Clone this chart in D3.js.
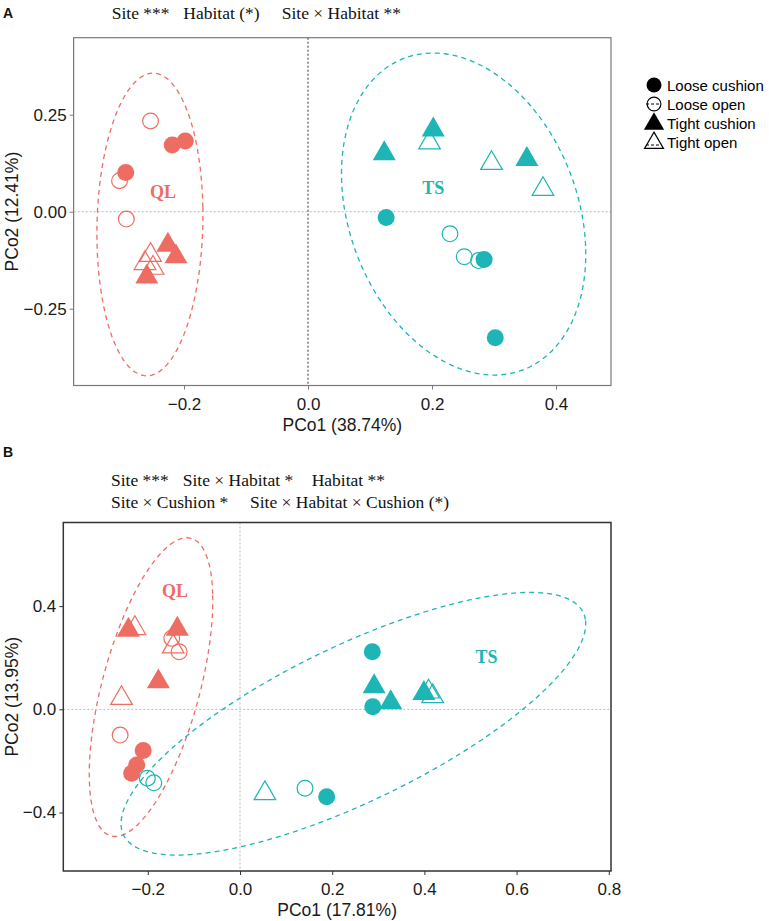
<!DOCTYPE html>
<html><head><meta charset="utf-8">
<script src="https://cdn.jsdelivr.net/npm/d3@7"></script>
<style>body{margin:0;background:#fff} svg{display:block}</style>
</head><body><svg id="c" width="769" height="921"></svg>
<script>
// ---------- shared categories ----------
const groupNames = ["Loose cushion", "Loose open", "Tight cushion", "Tight open"];
const siteNames = ["QL", "TS"];
const siteColors = ["#EE6D62", "#1DB5B6"];

// ---------- Panel A data ----------
const aPCo1 = [-0.219, -0.198, -0.294, -0.254, -0.304, -0.293, -0.226, -0.213, -0.260, -0.254, -0.263, -0.250,
               0.126, 0.284, 0.302, 0.229, 0.252, 0.275, 0.123, 0.202, 0.353, 0.196, 0.296, 0.379];
const aPCo2 = [0.172, 0.182, 0.101, 0.234, 0.080, -0.019, -0.086, -0.116, -0.168, -0.112, -0.133, -0.145,
               -0.015, -0.123, -0.325, -0.057, -0.116, -0.126, 0.150, 0.211, 0.135, 0.178, 0.125, 0.058];
const aSite = ["QL","QL","QL","QL","QL","QL","QL","QL","QL","QL","QL","QL",
               "TS","TS","TS","TS","TS","TS","TS","TS","TS","TS","TS","TS"];
const aGroup = ["Loose cushion","Loose cushion","Loose cushion","Loose open","Loose open","Loose open",
                "Tight cushion","Tight cushion","Tight cushion","Tight open","Tight open","Tight open",
                "Loose cushion","Loose cushion","Loose cushion","Loose open","Loose open","Loose open",
                "Tight cushion","Tight cushion","Tight cushion","Tight open","Tight open","Tight open"];
// ellipse summaries (centre, spread, correlation) per site
const aEllCx = [-0.255, 0.251];
const aEllCy = [-0.033, -0.006];
const aEllSx = [0.0855, 0.197];
const aEllSy = [0.390, 0.415];
const aEllR = [0.06, -0.25];
const aLabelX = [-0.234, 0.202];
const aLabelY = [0.050, 0.060];
const aXTicks = [-0.2, 0.0, 0.2, 0.4];
const aXTickLabels = ["\u22120.2", "0.0", "0.2", "0.4"];
const aYTicks = [0.25, 0.0, -0.25];
const aYTickLabels = ["0.25", "0.00", "\u22120.25"];
const aXTitle = "PCo1 (38.74%)";
const aYTitle = "PCo2 (12.41%)";
const aHeader = [["Site ***", "Habitat (*)", "Site \u00d7 Habitat **"]];

// ---------- Panel B data ----------
const bPCo1 = [-0.210, -0.224, -0.235, -0.148, -0.132, -0.260, -0.242, -0.136, -0.177, -0.228, -0.145, -0.257,
               0.188, 0.287, 0.288, -0.201, -0.187, 0.141, 0.291, 0.327, 0.399, 0.054, 0.409, 0.418];
const bPCo2 = [-0.160, -0.216, -0.248, 0.275, 0.223, -0.100, 0.307, 0.311, 0.107, 0.314, 0.243, 0.043,
               -0.339, 0.223, 0.010, -0.267, -0.285, -0.306, 0.088, 0.026, 0.062, -0.326, 0.068, 0.050];
const bSite = aSite.slice();
const bGroup = aGroup.slice();
const bEllCx = [-0.193, 0.246];
const bEllCy = [0.086, -0.056];
const bEllSx = [0.134, 0.504];
const bEllSy = [0.579, 0.509];
const bEllR = [0.58, 0.76];
const bLabelX = [-0.141, 0.535];
const bLabelY = [0.457, 0.204];
const bXTicks = [-0.2, 0.0, 0.2, 0.4, 0.6, 0.8];
const bXTickLabels = ["\u22120.2", "0.0", "0.2", "0.4", "0.6", "0.8"];
const bYTicks = [0.4, 0.0, -0.4];
const bYTickLabels = ["0.4", "0.0", "\u22120.4"];
const bXTitle = "PCo1 (17.81%)";
const bYTitle = "PCo2 (13.95%)";
const bHeader = [["Site ***", "Site \u00d7 Habitat *", "Habitat **"],
                 ["Site \u00d7 Cushion *", "Site \u00d7 Habitat \u00d7 Cushion (*)"]];

// ---------- drawing ----------
const svg = d3.select("#c");
const SANS = "'Liberation Sans', Arial, sans-serif";
const SERIF = "'Liberation Serif', 'Times New Roman', serif";
const color = d3.scaleOrdinal().domain(siteNames).range(siteColors);
const CR = 8.5, TR = 13.3;

function triPath(r) {
  const h = r * Math.sqrt(3) / 2;
  return `M0,${-r}L${h},${r/2}L${-h},${r/2}Z`;
}

function drawSymbol(g, group, col, x, y, scale) {
  const s = scale || 1;
  const filled = group.indexOf("cushion") >= 0;
  if (group.startsWith("Loose")) {
    g.append("circle").attr("cx", x).attr("cy", y).attr("r", filled ? CR * s : CR * s - 0.6)
      .attr("fill", filled ? col : "none").attr("stroke", filled ? "none" : col).attr("stroke-width", 1.2);
  } else {
    g.append("path").attr("d", triPath(filled ? TR * s : TR * s - 0.8))
      .attr("transform", `translate(${x},${y})`)
      .attr("fill", filled ? col : "none").attr("stroke", filled ? "none" : col).attr("stroke-width", 1.2)
      .attr("stroke-linejoin", "miter");
  }
}

function drawPanel(p) {
  const x = d3.scaleLinear().domain(p.xDom).range([p.left, p.right]);
  const y = d3.scaleLinear().domain(p.yDom).range([p.bottom, p.top]);
  const g = svg.append("g");
  // zero lines
  g.append("line").attr("x1", p.left).attr("x2", p.right).attr("y1", y(0)).attr("y2", y(0))
    .attr("stroke", "#b8b8b8").attr("stroke-width", 1).attr("stroke-dasharray", "2,2");
  g.append("line").attr("x1", x(0)).attr("x2", x(0)).attr("y1", p.top).attr("y2", p.bottom)
    .attr("stroke", p.vzColor).attr("stroke-width", 1).attr("stroke-dasharray", "2,2");
  // ellipses
  const ts = d3.range(0, 361, 3).map(d => d * Math.PI / 180);
  for (let i = 0; i < siteNames.length; i++) {
    const s = Math.sqrt(1 - p.ellR[i] * p.ellR[i]);
    const pts = ts.map(t => [x(p.ellCx[i] + p.ellSx[i] * Math.cos(t)),
                             y(p.ellCy[i] + p.ellSy[i] * (p.ellR[i] * Math.cos(t) + s * Math.sin(t)))]);
    g.append("path").attr("d", d3.line().curve(d3.curveCardinalClosed)(pts.slice(0, -1)))
      .attr("fill", "none").attr("stroke", color(siteNames[i])).attr("stroke-width", 1.3)
      .attr("stroke-dasharray", "5,4");
  }
  // points
  for (let i = 0; i < p.px.length; i++) {
    drawSymbol(g, p.grp[i], color(p.site[i]), x(p.px[i]), y(p.py[i]));
  }
  // site labels
  for (let i = 0; i < siteNames.length; i++) {
    g.append("text").attr("x", x(p.labX[i])).attr("y", y(p.labY[i]))
      .attr("text-anchor", "middle").attr("dominant-baseline", "central")
      .attr("font-family", SERIF).attr("font-weight", "bold").attr("font-size", 18)
      .attr("fill", color(siteNames[i])).text(siteNames[i]);
  }
  // frame
  g.append("rect").attr("x", p.left).attr("y", p.top).attr("width", p.right - p.left).attr("height", p.bottom - p.top)
    .attr("fill", "none").attr("stroke", p.frame).attr("stroke-width", p.frameW);
  // axes
  const xa = g.append("g").attr("transform", `translate(0,${p.bottom})`)
    .call(d3.axisBottom(x).tickValues(p.xTicks).tickFormat((d, i) => p.xTickLabels[i]).tickSize(4).tickPadding(4));
  const ya = g.append("g").attr("transform", `translate(${p.left},0)`)
    .call(d3.axisLeft(y).tickValues(p.yTicks).tickFormat((d, i) => p.yTickLabels[i]).tickSize(4).tickPadding(3));
  [xa, ya].forEach(a => {
    a.select(".domain").remove();
    a.selectAll("line").attr("stroke", p.frame).attr("stroke-width", 1);
    a.selectAll("text").attr("font-family", SANS).attr("font-size", 17).attr("fill", "#1a1a1a");
  });
  xa.selectAll("text").attr("dy", "0.95em");
  // titles
  g.append("text").attr("x", (p.left + p.right) / 2).attr("y", p.xTitleY).attr("text-anchor", "middle")
    .attr("font-family", SANS).attr("font-size", 17.5).attr("fill", "#1a1a1a").text(p.xTitle);
  g.append("text").attr("transform", `translate(${p.yTitleX},${(p.top + p.bottom) / 2}) rotate(-90)`)
    .attr("text-anchor", "middle").attr("dominant-baseline", "central")
    .attr("font-family", SANS).attr("font-size", 17.5).attr("fill", "#1a1a1a").text(p.yTitle);
  // header
  p.header.forEach((line, li) => {
    line.forEach((t, ti) => {
      g.append("text").attr("x", p.headerX[li][ti]).attr("y", p.headerY[li])
        .attr("font-family", SERIF).attr("font-size", 17.5).attr("fill", "#111").text(t);
    });
  });
  // panel letter
  g.append("text").attr("x", 3).attr("y", p.letterY).attr("font-family", SANS).attr("font-weight", "bold")
    .attr("font-size", 14).attr("fill", "#111").text(p.letter);
}

drawPanel({
  left: 73.6, right: 611, top: 37.7, bottom: 385.5,
  xDom: [-0.3781, 0.4887], yDom: [-0.4479, 0.4485],
  px: aPCo1, py: aPCo2, site: aSite, grp: aGroup,
  ellCx: aEllCx, ellCy: aEllCy, ellSx: aEllSx, ellSy: aEllSy, ellR: aEllR,
  labX: aLabelX, labY: aLabelY,
  xTicks: aXTicks, xTickLabels: aXTickLabels, yTicks: aYTicks, yTickLabels: aYTickLabels,
  xTitle: aXTitle, yTitle: aYTitle, xTitleY: 431, yTitleX: 12,
  frame: "#7a7a7a", frameW: 1.2, vzColor: "#333",
  header: aHeader, headerX: [[111.7, 183.3, 281.7]], headerY: [19],
  letter: "A", letterY: 18
});

drawPanel({
  left: 63.3, right: 611, top: 522.5, bottom: 871,
  xDom: [-0.3833, 0.8048], yDom: [-0.6267, 0.7241],
  px: bPCo1, py: bPCo2, site: bSite, grp: bGroup,
  ellCx: bEllCx, ellCy: bEllCy, ellSx: bEllSx, ellSy: bEllSy, ellR: bEllR,
  labX: bLabelX, labY: bLabelY,
  xTicks: bXTicks, xTickLabels: bXTickLabels, yTicks: bYTicks, yTickLabels: bYTickLabels,
  xTitle: bXTitle, yTitle: bYTitle, xTitleY: 916, yTitleX: 12,
  frame: "#333", frameW: 1.5, vzColor: "#b8b8b8",
  header: bHeader, headerX: [[111, 182.7, 311.7], [111, 250]], headerY: [486, 507.7],
  letter: "B", letterY: 456.7
});

// ---------- legend ----------
const leg = svg.append("g");
const legY = [85, 104, 123, 142];
groupNames.forEach((gname, i) => {
  const cy = gname.startsWith("Tight") ? legY[i] + 1 : legY[i];
  if (gname.indexOf("open") >= 0) {
    leg.append("line").attr("x1", 646).attr("x2", 661).attr("y1", legY[i] + (gname.startsWith("Tight") ? 3 : 0))
      .attr("y2", legY[i] + (gname.startsWith("Tight") ? 3 : 0))
      .attr("stroke", "#000").attr("stroke-width", 1).attr("stroke-dasharray", "3,2");
  }
  drawSymbol(leg, gname, "#000", 654, cy, 0.88);
  leg.append("text").attr("x", 667).attr("y", legY[i]).attr("dominant-baseline", "central")
    .attr("font-family", SANS).attr("font-size", 15).attr("fill", "#000").text(gname);
});
</script>
</body></html>
